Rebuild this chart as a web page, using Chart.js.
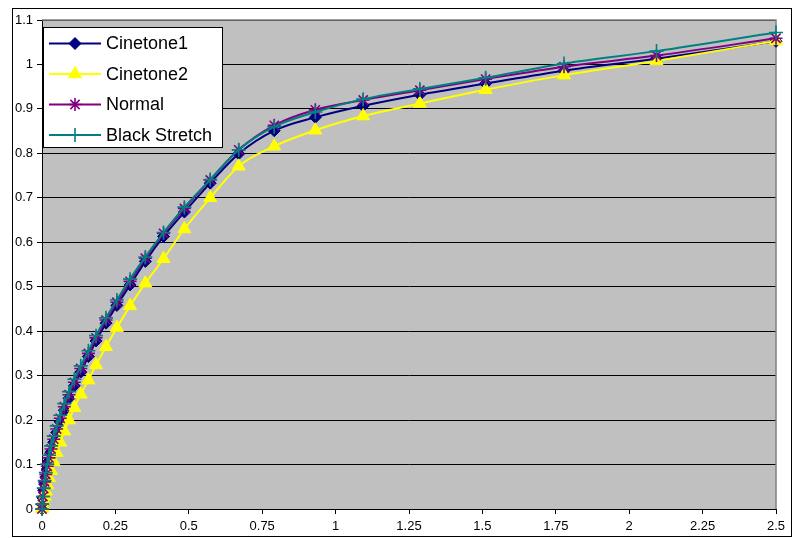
<!DOCTYPE html>
<html lang="en">
<head>
    <meta charset="UTF-8">
    <title>Cinetone curves</title>
    <script src="https://cdn.jsdelivr.net/npm/chart.js"></script>
    <style>
        body { margin: 0; background: #ffffff; }
        canvas { display: block; }
    </style>
</head>
<body>
    <canvas id="curveChart" width="794" height="538"></canvas>

    <script>
        // shared input values (x axis)
        const inputLevels = [0, 0.001, 0.003, 0.006, 0.009, 0.013, 0.018, 0.024, 0.031, 0.040, 0.050, 0.062, 0.076, 0.092, 0.110, 0.132, 0.158, 0.184, 0.218, 0.255, 0.300, 0.352, 0.414, 0.485, 0.573, 0.670, 0.791, 0.931, 1.094, 1.287, 1.511, 1.778, 2.093, 2.5];

        const cinetone1 = [0, 0.010, 0.025, 0.042, 0.056, 0.072, 0.090, 0.108, 0.128, 0.150, 0.172, 0.196, 0.222, 0.249, 0.277, 0.308, 0.343, 0.378, 0.418, 0.458, 0.504, 0.557, 0.613, 0.668, 0.733, 0.799, 0.851, 0.881, 0.907, 0.932, 0.957, 0.986, 1.013, 1.052];
        const cinetone2 = [0, 0.003, 0.009, 0.018, 0.028, 0.040, 0.054, 0.070, 0.086, 0.106, 0.127, 0.150, 0.175, 0.200, 0.228, 0.258, 0.290, 0.324, 0.365, 0.408, 0.457, 0.508, 0.563, 0.630, 0.700, 0.771, 0.816, 0.852, 0.884, 0.912, 0.943, 0.976, 1.008, 1.053];
        const normal = [0, 0.011, 0.028, 0.046, 0.061, 0.078, 0.096, 0.115, 0.135, 0.157, 0.180, 0.204, 0.230, 0.257, 0.285, 0.316, 0.350, 0.385, 0.425, 0.465, 0.512, 0.564, 0.620, 0.676, 0.740, 0.808, 0.863, 0.898, 0.920, 0.942, 0.967, 0.995, 1.020, 1.059];
        const blackStretch = [0, 0.011, 0.028, 0.047, 0.064, 0.082, 0.101, 0.121, 0.142, 0.164, 0.187, 0.211, 0.237, 0.264, 0.292, 0.322, 0.356, 0.390, 0.430, 0.470, 0.517, 0.567, 0.622, 0.679, 0.741, 0.808, 0.860, 0.893, 0.922, 0.945, 0.970, 1.002, 1.030, 1.072];

        const seriesNames = ['Cinetone1', 'Cinetone2', 'Normal', 'Black Stretch'];

        function toPoints(ys) {
            return inputLevels.map((x, i) => ({ x: x, y: ys[i] }));
        }

        // plain number labels: 0.25, 1, 1.1 ...
        function plainLabel(value) {
            return String(parseFloat(value.toFixed(2)));
        }

        const styles = [
            { color: '#000080', marker: 'rectRot', radius: 6, width: 1 },
            { color: '#ffff00', marker: 'triangle', radius: 7.5, width: 1 },
            { color: '#800080', marker: 'star', radius: 6.5, width: 1.6 },
            { color: '#008080', marker: 'cross', radius: 7, width: 1.6 }
        ];

        const allSeries = [cinetone1, cinetone2, normal, blackStretch];

        const datasets = allSeries.map((ys, i) => ({
            label: seriesNames[i],
            data: toPoints(ys),
            borderColor: styles[i].color,
            backgroundColor: styles[i].color,
            borderWidth: 2,
            pointStyle: styles[i].marker,
            pointRadius: styles[i].radius,
            pointBorderWidth: styles[i].width,
            pointBackgroundColor: styles[i].color,
            pointBorderColor: styles[i].color,
            cubicInterpolationMode: 'monotone',
            clip: false,
            order: 3 - i  // later series drawn on top
        }));

        // grey plot area, outer frame, plot border
        const framePlugin = {
            id: 'frame',
            beforeDraw(chart) {
                const ctx = chart.ctx;
                const a = chart.chartArea;
                ctx.save();
                ctx.fillStyle = '#ffffff';
                ctx.fillRect(0, 0, chart.width, chart.height);
                ctx.strokeStyle = '#000000';
                ctx.lineWidth = 1;
                ctx.strokeRect(12.5, 8.5, 779, 528);
                ctx.fillStyle = '#c0c0c0';
                ctx.fillRect(a.left, a.top, a.right - a.left, a.bottom - a.top);
                ctx.restore();
            },
            beforeDatasetsDraw(chart) {
                const ctx = chart.ctx;
                const a = chart.chartArea;
                ctx.save();
                ctx.strokeStyle = '#808080';
                ctx.lineWidth = 1.5;
                ctx.beginPath();
                ctx.moveTo(a.left, a.top);
                ctx.lineTo(a.right, a.top);
                ctx.lineTo(a.right, a.bottom);
                ctx.stroke();
                ctx.restore();
            }
        };

        // legend box inside the plot, like the spreadsheet original
        const boxLegend = {
            id: 'boxLegend',
            afterDraw(chart) {
                const ctx = chart.ctx;
                ctx.save();
                ctx.fillStyle = '#ffffff';
                ctx.fillRect(43, 27, 180, 121);
                ctx.strokeStyle = '#000000';
                ctx.lineWidth = 1;
                ctx.strokeRect(43.5, 27.5, 179, 120);
                ctx.font = '18px "Liberation Sans", Arial, sans-serif';
                ctx.textBaseline = 'middle';
                chart.data.datasets.forEach((ds, i) => {
                    const y = 43.5 + i * 30.5;
                    const st = styles[i];
                    ctx.strokeStyle = st.color;
                    ctx.lineWidth = 2;
                    ctx.beginPath();
                    ctx.moveTo(49, y);
                    ctx.lineTo(101, y);
                    ctx.stroke();
                    ctx.fillStyle = st.color;
                    ctx.lineWidth = st.width;
                    Chart.helpers.drawPoint(ctx, {
                        pointStyle: st.marker,
                        radius: st.radius,
                        rotation: 0,
                        borderWidth: st.width
                    }, 75, y);
                    ctx.fillStyle = '#000000';
                    ctx.fillText(ds.label, 106, y + 1);
                });
                ctx.restore();
            }
        };

        Chart.defaults.font.family = '"Liberation Sans", Arial, sans-serif';
        Chart.defaults.font.size = 13;
        Chart.defaults.color = '#000000';

        new Chart(document.getElementById('curveChart'), {
            type: 'line',
            data: { datasets: datasets },
            options: {
                responsive: false,
                animation: false,
                layout: { padding: { top: 20, right: 18, left: 0, bottom: 0 } },
                plugins: {
                    legend: { display: false },
                    tooltip: { enabled: false }
                },
                scales: {
                    x: {
                        type: 'linear',
                        min: 0,
                        max: 2.5,
                        ticks: { stepSize: 0.25, padding: 5, maxRotation: 0, autoSkip: false, callback: plainLabel },
                        grid: { drawOnChartArea: false, drawTicks: true, tickLength: 5, color: '#000000' },
                        border: { color: '#000000', width: 1 },
                        afterFit(scale) { scale.height = 29; }
                    },
                    y: {
                        min: 0,
                        max: 1.1,
                        ticks: { stepSize: 0.1, padding: 4, callback: plainLabel },
                        grid: { color: '#000000', tickLength: 5 },
                        border: { color: '#000000', width: 1 },
                        afterFit(scale) { scale.width = 42; }
                    }
                }
            },
            plugins: [framePlugin, boxLegend]
        });
    </script>
</body>
</html>
